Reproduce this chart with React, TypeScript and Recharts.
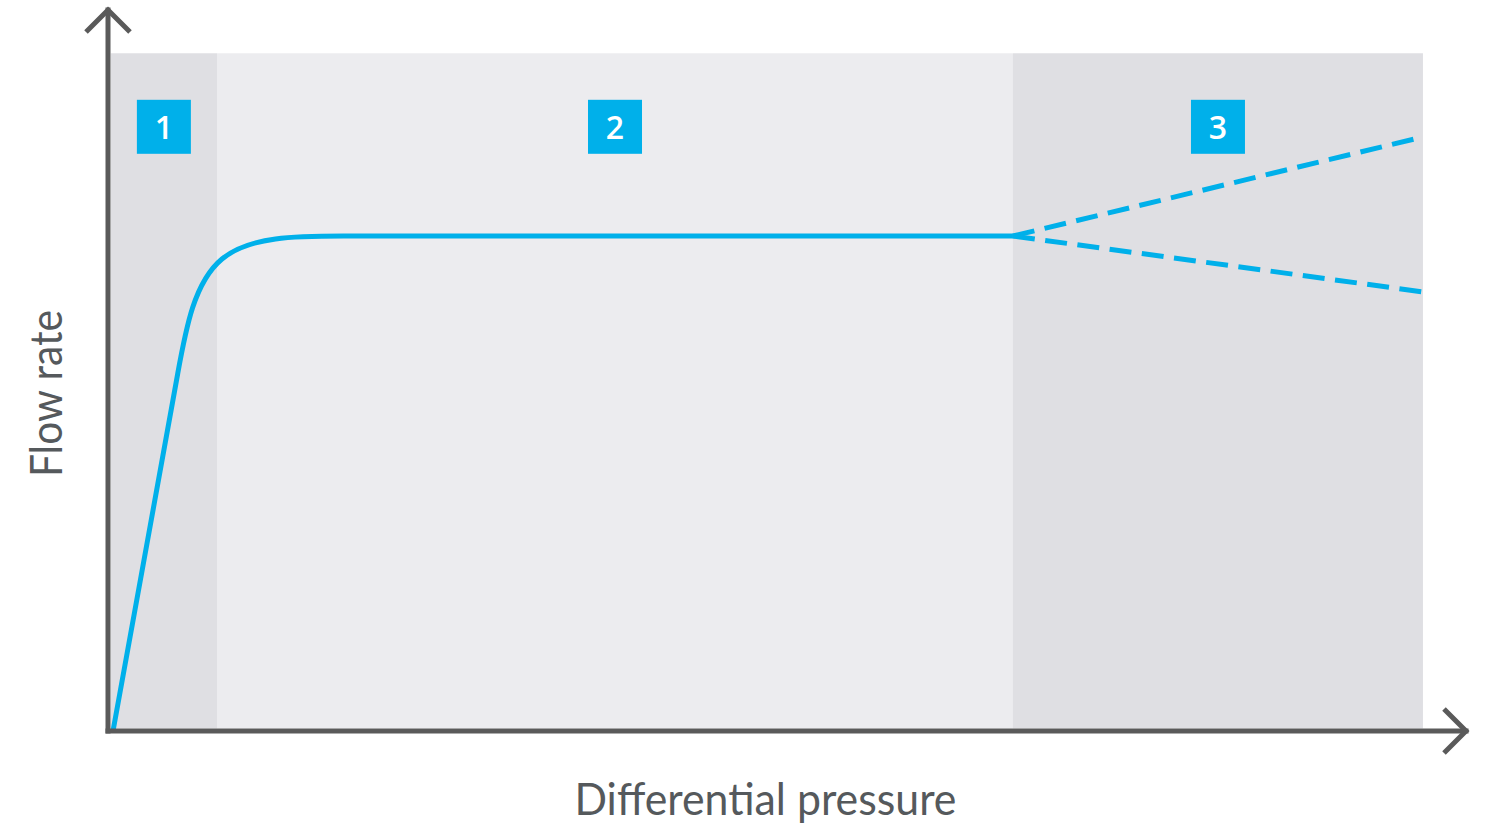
import {
  ComposedChart,
  Line,
  XAxis,
  YAxis,
  ReferenceArea,
  ReferenceDot,
} from "recharts";

// main characteristic: ramp, rounded knee, regulated plateau
// (the knee is drawn as a B-spline, so the corner point is a control point)
const mainPressure = [0.37, 3.3, 5.13, 6.97, 17.35, 27.73, 66.64];
const mainFlow = [0, 30.44, 49.54, 68.65, 68.65, 68.65, 68.65];

// region 3: flow may rise or fall beyond the working range
const overPressure = [66.64, 96.83];
const risingFlow = [68.65, 82.4];
const fallingFlow = [68.65, 60.9];

const regionLabels = ["1", "2", "3"];
const regionStart = [0.2, 8.03, 66.64];
const regionEnd = [8.03, 66.64, 96.83];
const regionTop = 94.0;
const badgeLevel = 83.8;

const xTitle = "Differential pressure";
const yTitle = "Flow rate";

const BLUE = "#00b0ea";
const AXIS = "#5a5a5a";
const TEXT = "#55595c";
const FONT = "Lato, 'Open Sans', sans-serif";
const regionFills = ["#dfdfe3", "#ececef", "#dfdfe3"];

const toRows = (xs: number[], ys: number[]) =>
  xs.map((p, i) => ({ pressure: p, flow: ys[i] }));

const Badge = (props: any) => {
  const { cx, cy, label } = props;
  return (
    <g>
      <rect x={cx - 27} y={cy - 27} width={54} height={54} fill={BLUE} />
      <text
        x={cx}
        y={cy + 12}
        textAnchor="middle"
        fill="#fff"
        fontSize={32}
        fontWeight={600}
        fontFamily="'Open Sans', sans-serif"
      >
        {label}
      </text>
    </g>
  );
};

const UpArrow = (props: any) => {
  const { cx, cy } = props;
  return (
    <path
      d={`M${cx - 22},${cy + 22} L${cx},${cy} L${cx + 22},${cy + 22}`}
      fill="none"
      stroke={AXIS}
      strokeWidth={5}
    />
  );
};

const RightArrow = (props: any) => {
  const { cx, cy } = props;
  return (
    <path
      d={`M${cx - 22},${cy - 22} L${cx},${cy} L${cx - 22},${cy + 22}`}
      fill="none"
      stroke={AXIS}
      strokeWidth={5}
    />
  );
};

const XTitle = ({ viewBox }: any) => {
  const { x, y, width } = viewBox;
  const shadedEnd = regionEnd[regionEnd.length - 1];
  return (
    <text
      x={x + (width * shadedEnd) / 200}
      y={y + 84}
      textAnchor="middle"
      fill={TEXT}
      fontSize={44}
      fontFamily={FONT}
      textLength={382}
      lengthAdjust="spacingAndGlyphs"
    >
      {xTitle}
    </text>
  );
};

const YTitle = ({ viewBox }: any) => {
  const { x, y, width, height } = viewBox;
  const cx = x + width - 46;
  const cy = y + height * 0.532;
  return (
    <text
      x={cx}
      y={cy}
      textAnchor="middle"
      fill={TEXT}
      fontSize={44}
      fontFamily={FONT}
      textLength={167}
      lengthAdjust="spacingAndGlyphs"
      transform={`rotate(-90, ${cx}, ${cy})`}
    >
      {yTitle}
    </text>
  );
};

export default function App() {
  const centers = regionStart.map((s, i) => (s + regionEnd[i]) / 2);

  return (
    <div
      style={{
        position: "absolute",
        left: 0,
        top: 0,
        width: 1500,
        height: 824,
        background: "#fff",
      }}
    >
      <ComposedChart
        width={1500}
        height={824}
        margin={{ top: 10, right: 34, left: 107, bottom: 92 }}
      >
        <XAxis
          type="number"
          dataKey="pressure"
          domain={[0, 100]}
          allowDataOverflow
          height={1}
          tick={false}
          tickLine={false}
          axisLine={{ stroke: AXIS, strokeWidth: 5, strokeLinecap: "square" }}
          label={<XTitle />}
        />
        <YAxis
          type="number"
          dataKey="flow"
          domain={[0, 100]}
          allowDataOverflow
          width={1}
          tick={false}
          tickLine={false}
          axisLine={{ stroke: AXIS, strokeWidth: 5, strokeLinecap: "square" }}
          label={<YTitle />}
        />
        {regionStart.map((s, i) => (
          <ReferenceArea
            key={`area-${i}`}
            x1={s}
            x2={regionEnd[i]}
            y1={0.35}
            y2={regionTop}
            fill={regionFills[i]}
            fillOpacity={1}
            stroke="none"
            ifOverflow="visible"
          />
        ))}
        <Line
          data={toRows(mainPressure, mainFlow)}
          dataKey="flow"
          type="basis"
          stroke={BLUE}
          strokeWidth={5}
          dot={false}
          activeDot={false}
          isAnimationActive={false}
        />
        <Line
          data={toRows(overPressure, risingFlow)}
          dataKey="flow"
          type="linear"
          stroke={BLUE}
          strokeWidth={5}
          strokeDasharray="22 10.5"
          dot={false}
          activeDot={false}
          isAnimationActive={false}
        />
        <Line
          data={toRows(overPressure, fallingFlow)}
          dataKey="flow"
          type="linear"
          stroke={BLUE}
          strokeWidth={5}
          strokeDasharray="22 10.5"
          dot={false}
          activeDot={false}
          isAnimationActive={false}
        />
        {regionLabels.map((lab, i) => (
          <ReferenceDot
            key={`badge-${i}`}
            x={centers[i]}
            y={badgeLevel}
            r={0}
            ifOverflow="visible"
            shape={(p: any) => <Badge {...p} label={lab} />}
          />
        ))}
        <ReferenceDot
          x={0}
          y={100}
          r={0}
          ifOverflow="visible"
          shape={(p: any) => <UpArrow {...p} />}
        />
        <ReferenceDot
          x={100}
          y={0}
          r={0}
          ifOverflow="visible"
          shape={(p: any) => <RightArrow {...p} />}
        />
      </ComposedChart>
    </div>
  );
}
